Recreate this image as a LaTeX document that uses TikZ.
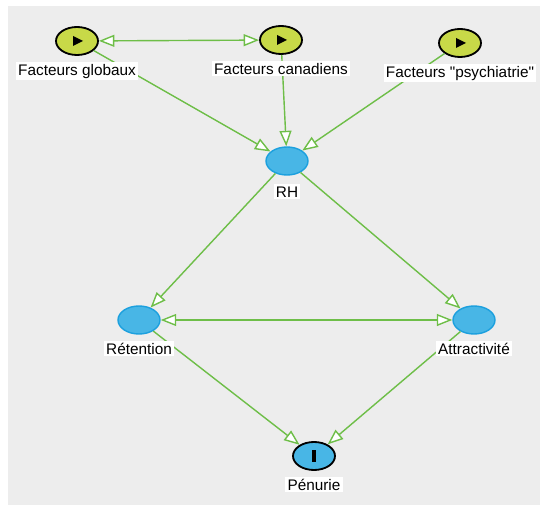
\documentclass[tikz,border=0pt]{standalone}
\usepackage{fontspec}
\setmainfont{Liberation Sans}[Ligatures=TeXOff]
\usetikzlibrary{shapes.geometric,arrows.meta,positioning}
\definecolor{linkgreen}{RGB}{110,190,72}
\definecolor{factorfill}{RGB}{200,217,72}
\definecolor{stockfill}{RGB}{72,182,230}
\definecolor{stockline}{RGB}{28,160,222}
\definecolor{canvas}{RGB}{237,237,237}
\begin{document}
\begin{tikzpicture}[x=0.025cm,y=-0.025cm,
  factor/.style={ellipse,draw=black,line width=1.3pt,fill=factorfill,minimum width=1.05cm,minimum height=0.7cm,inner sep=0pt},
  stock/.style={ellipse,draw=stockline,line width=1pt,fill=stockfill,minimum width=1.05cm,minimum height=0.7cm,inner sep=0pt},
  lbl/.style={fill=white,inner sep=1.5pt,font=\fontsize{10.9}{12}\selectfont},
  link/.style={draw=linkgreen,line width=1pt,-{Triangle[length=11pt,width=8.5pt,fill=white]}},
  twolink/.style={draw=linkgreen,line width=1pt,{Triangle[length=11pt,width=8.5pt,fill=white]}-{Triangle[length=11pt,width=8.5pt,fill=white]}}]
\useasboundingbox (0,0) rectangle (540,505);
\fill[white] (0,0) rectangle (540,505);
\fill[canvas] (8,6) rectangle (540,505);

\node[factor] (glob) at (77,41) {};
\node[factor] (cana) at (281,40) {};
\node[factor] (psy) at (460,43) {};
\node[stock] (rh) at (287,161) {};
\node[stock] (ret) at (139,320) {};
\node[stock] (att) at (474,320) {};
\node[stock,draw=black,line width=1.3pt] (pen) at (314,456) {};

\foreach \n in {glob,cana,psy}
{
\begin{scope}[shift={(\n)}]
\fill (-4,-5) -- (-4,5) -- (6,0) -- cycle;
\end{scope}
}
\fill[shift={(pen)}] (-1.7,-6) rectangle (1.7,6);

\draw[twolink] (glob) -- (cana);
\draw[link] (glob) -- (rh);
\draw[link] (cana) -- (rh);
\draw[link] (psy) -- (rh);
\draw[link] (rh) -- (ret);
\draw[link] (rh) -- (att);
\draw[twolink] (ret) -- (att);
\draw[link] (ret) -- (pen);
\draw[link] (att) -- (pen);

\node[lbl,below=4pt of glob] (globlbl) {Facteurs globaux};
\node[lbl,below=4pt of cana] (canalbl) {Facteurs canadiens};
\node[lbl,below=4pt of psy] (psylbl) {Facteurs "psychiatrie"};
\node[lbl,below=6pt of rh] (rhlbl) {RH};
\node[lbl,below=4pt of ret] (retlbl) {Rétention};
\node[lbl,below=4pt of att] (attlbl) {Attractivité};
\node[lbl,below=4pt of pen] (penlbl) {Pénurie};
\end{tikzpicture}
\end{document}
